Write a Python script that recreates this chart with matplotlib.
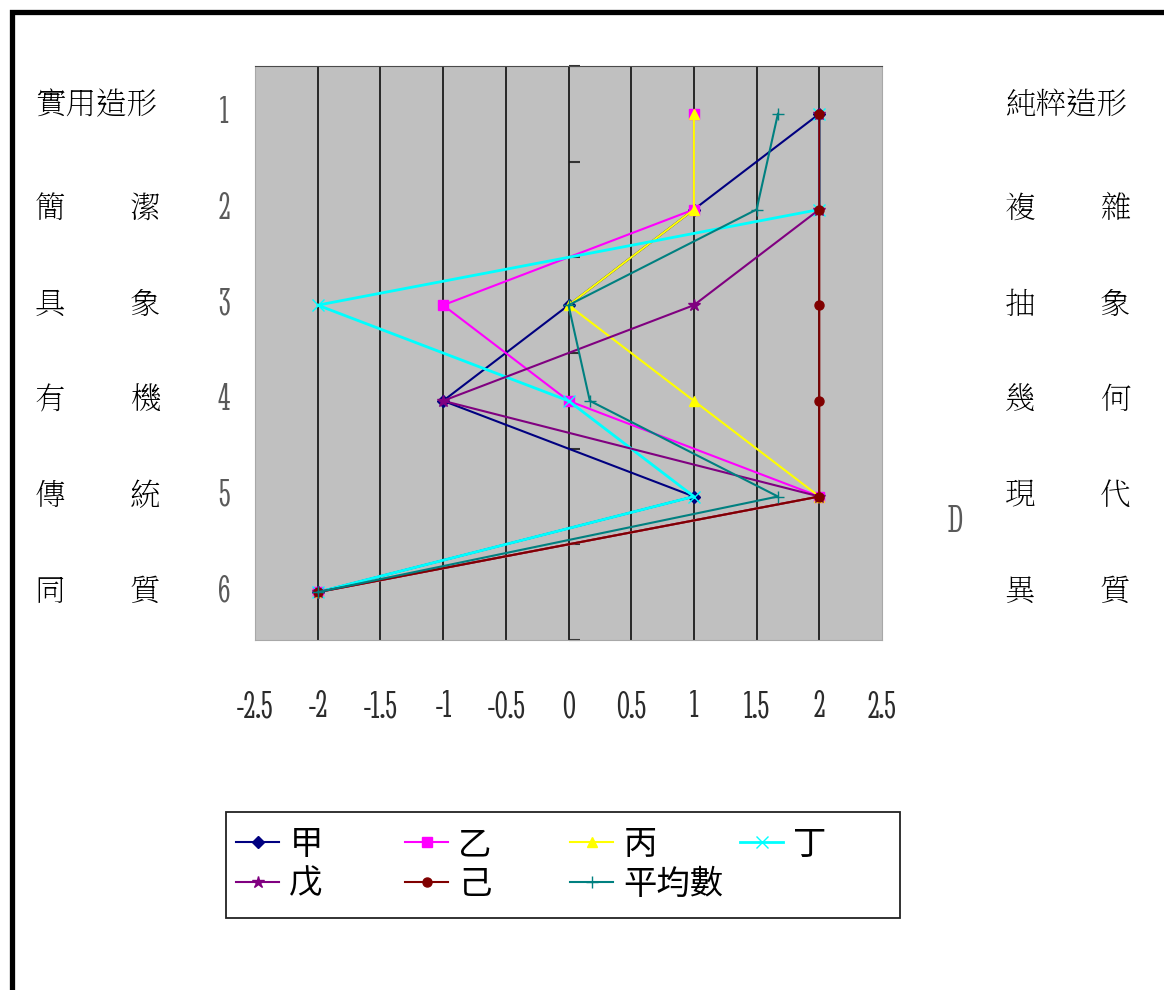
import numpy as np
import matplotlib.pyplot as plt
from matplotlib import transforms
from matplotlib.patches import Rectangle

plt.rcParams['font.family'] = ['Noto Sans CJK TC', 'DejaVu Sans']

# scores for each of the six scale rows (1 = top)
rows = [1, 2, 3, 4, 5, 6]
jia = [2, 1, 0, -1, 1, -2]
yi = [1, 1, -1, 0, 2, -2]
bing = [1, 1, 0, 1, 2, -2]
ding = [2, 2, -2, 0, 1, -2]
wu = [2, 2, 1, -1, 2, -2]
ji = [2, 2, 2, 2, 2, -2]
average = [1.67, 1.5, 0, 0.17, 1.67, -2]

names = ['甲', '乙', '丙', '丁', '戊', '己', '平均數']
colors = ['#000080', '#FF00FF', '#FFFF00', '#00FFFF', '#800080', '#800000', '#008080']
markers = ['D', 's', '^', 'x', '*', 'o', '+']

x_ticks = [-2.5, -2, -1.5, -1, -0.5, 0, 0.5, 1, 1.5, 2, 2.5]
x_labels = ['-2.5', '-2', '-1.5', '-1', '-0.5', '0', '0.5', '1', '1.5', '2', '2.5']

left_title = '實用造形'
right_title = '純粹造形'
left_pairs = [('簡', '潔'), ('具', '象'), ('有', '機'), ('傳', '統'), ('同', '質')]
right_pairs = [('複', '雜'), ('抽', '象'), ('幾', '何'), ('現', '代'), ('異', '質')]

W, H = 1164, 990
num_font = ['Stint Ultra Condensed', 'Liberation Serif']
ming_font = ['Noto Serif TC', 'Noto Sans CJK TC']

fig = plt.figure(figsize=(W / 100, H / 100), dpi=100)
ax = fig.add_axes([255 / W, 1 - 640 / H, 627 / W, 574 / H])
ax.set_facecolor('#C0C0C0')

series = [jia, yi, bing, ding, wu, ji, average]
for vals, name, c, m in zip(series, names, colors, markers):
    lw = 2.0 if name == '丁' else 1.5
    ms = 9 if m in ('*', '+', 'x') else 6.5
    ax.plot(vals, rows, color=c, marker=m, markersize=ms, markeredgecolor=c,
            markerfacecolor=c, lw=lw, label=name)

ax.set_xlim(-2.5, 2.5)
ax.set_ylim(6.5, 0.5)
ax.set_xticks(x_ticks)
ax.set_xticklabels(x_labels, family=num_font, fontsize=28, color='#2b2b2b')
ax.tick_params(axis='x', length=0, pad=36)
ax.set_yticks([])
ax.grid(axis='x', color='#1a1a1a', lw=1.3)
ax.set_axisbelow(True)
gls = ax.get_xgridlines()
gls[0].set_visible(False)
gls[-1].set_visible(False)
for side in ['left', 'right', 'bottom']:
    ax.spines[side].set_color('#a8a8a8')
ax.spines['top'].set_color('#4a4a4a')

# vertical axis through x = 0, ticks only
sec = ax.secondary_yaxis(0.5)
sec.set_yticks(np.arange(0.5, 7, 1))
sec.tick_params(length=8, width=1.5, color='#333333', labelright=False, labelleft=False)
for s in sec.spines.values():
    s.set_visible(False)

# row labels at both sides
trans = transforms.blended_transform_factory(fig.transFigure, ax.transData)
cjk = dict(fontsize=22, color='black', va='center', transform=trans, family=ming_font)
ax.text(35 / W, 0.92, left_title, ha='left', **cjk)
ax.text(1005 / W, 0.92, right_title, ha='left', **cjk)
for r, (a, b) in zip(rows[1:], left_pairs):
    ax.text(50 / W, r, a, ha='center', **cjk)
    ax.text(145 / W, r, b, ha='center', **cjk)
for r, (a, b) in zip(rows[1:], right_pairs):
    ax.text(1020 / W, r, a, ha='center', **cjk)
    ax.text(1115 / W, r, b, ha='center', **cjk)
for r in rows:
    ax.text(224 / W, r, str(r), ha='center', va='center', transform=trans,
            family=num_font, fontsize=28, color='#5a5a5a')
fig.text(955 / W, 1 - 522 / H, 'D', ha='center', va='center',
         family=num_font, fontsize=28, color='#5a5a5a')

# legend: one frameless legend per column inside a common box
handles = {h.get_label(): h for h in ax.get_lines()}
columns = [['甲', '戊'], ['乙', '己'], ['丙', '平均數'], ['丁']]
col_x = [236, 405, 570, 740]
for cx, col in zip(col_x, columns):
    fig.legend([handles[n] for n in col], col, loc='upper left',
               bbox_to_anchor=(cx / W, 1 - 827 / H), frameon=False,
               borderpad=0, borderaxespad=0, handlelength=1.3, handletextpad=0.3,
               labelspacing=0.15, fontsize=24)
fig.add_artist(Rectangle((226 / W, 1 - 918 / H), 674 / W, 106 / H, fill=False,
                         edgecolor='#222222', lw=1.3, transform=fig.transFigure))

# page border
fig.add_artist(Rectangle((12 / W, -0.1), 1.2, 1.1 - 12.5 / H, fill=False,
                         edgecolor='black', lw=3.8, transform=fig.transFigure))

fig.savefig('out.png', dpi=100)
